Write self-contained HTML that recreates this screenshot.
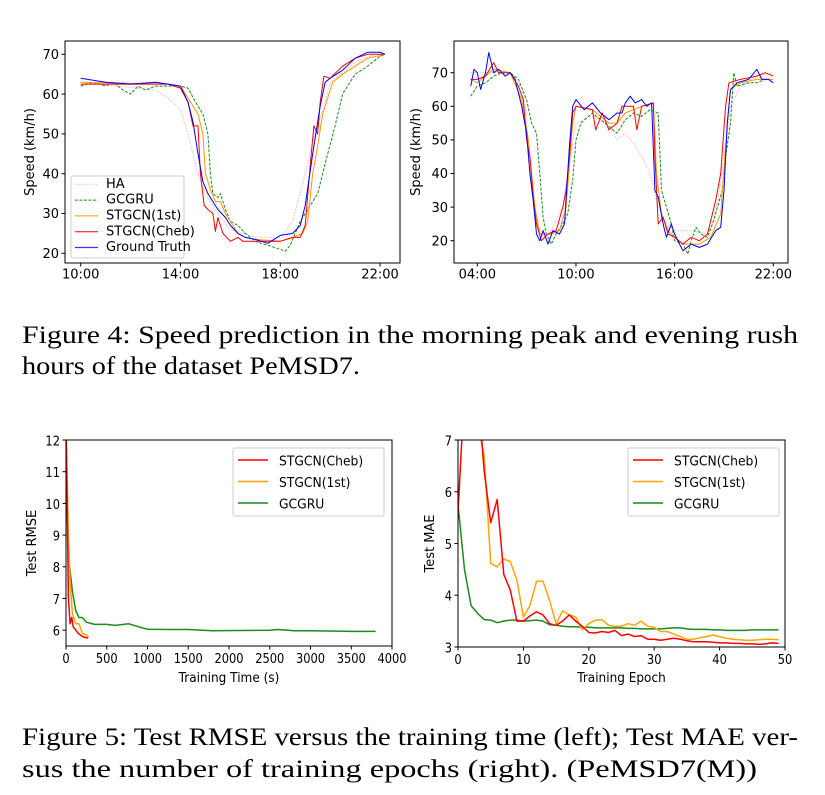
<!DOCTYPE html>
<html><head><meta charset="utf-8">
<style>
html,body{margin:0;padding:0;background:#fff;}
svg{display:block;}
.tk{font-family:"DejaVu Sans","Liberation Sans",sans-serif;font-size:13px;fill:#000;}
.cap{font-family:"Liberation Serif",serif;font-size:25px;fill:#000;}
</style></head>
<body>
<svg id="fig" width="825" height="795" viewBox="0 0 825 795" xmlns="http://www.w3.org/2000/svg">
<text class="cap" x="22" y="343" textLength="776" lengthAdjust="spacingAndGlyphs">Figure 4:  Speed prediction in the morning peak and evening rush</text>
<text class="cap" x="22" y="374" textLength="338" lengthAdjust="spacingAndGlyphs">hours of the dataset PeMSD7.</text>
<text class="cap" x="22" y="745" textLength="776" lengthAdjust="spacingAndGlyphs">Figure 5: Test RMSE versus the training time (left); Test MAE ver-</text>
<text class="cap" x="22" y="777" textLength="735" lengthAdjust="spacingAndGlyphs">sus the number of training epochs (right). (PeMSD7(M))</text>
</svg>
<script>
// ---- Chart A (left top) data ----
const aTruthT=[10,11,12,13,13.5,14,14.3,14.5,14.7,14.9,15.1,15.3,15.5,15.8,16,16.3,16.6,17,17.5,18,18.5,18.8,19,19.3,19.6,19.8,20,20.5,21,21.5,22,22.2];
const aTruthV=[64,63,62.5,63,62.5,62,58,53,45,38,35,33,31,29,27,25,24,23.5,22.5,24.5,25,27,32,45,57,63,64,66,69,70.5,70.5,70];
const aChebT=[10,13.5,14,14.3,14.5,14.7,14.8,14.95,15.1,15.3,15.4,15.5,15.7,16,16.3,16.5,17,18,18.5,18.8,19,19.2,19.35,19.5,19.6,19.75,20,20.5,21,21.5,22.2];
const aChebV=[62.5,62.5,61.5,58,52,52,40,32,31,30,25.5,29,25,23,24,23,23,23,24,24,27,42,52,50,58,64.5,64,67,69,70,70];
const a1stT=[10,13.5,14,14.5,14.7,14.9,15,15.2,15.4,15.6,15.8,16,16.3,16.6,17,18,18.5,18.9,19.1,19.3,19.5,19.7,19.9,20.1,20.5,21,21.5,22.2];
const a1stV=[63,62.5,62,57,55,50,40,36,33,33,30,28,25,24,23.5,23,24,25,28,40,47,55,59,63,65,67,69,70];
const aGruT=[10,10.5,11,11.3,11.7,12,12.3,12.6,13,13.5,14,14.3,14.6,14.9,15.1,15.2,15.3,15.5,15.6,15.8,16,16.3,16.6,17,17.5,18,18.2,18.4,18.6,18.8,19,19.2,19.5,19.7,19.9,20.2,20.5,21,21.5,22,22.2];
const aGruV=[62,63,62,63,61,60,62,61,62,62,62,61.5,58,55,50,40,35,34,35,31,28,27,25,23,22,21,20.5,22,25,28,30,32,35,40,45,52,60,65,67,69.5,70];
const aHaT=[10,13,13.5,14,14.3,14.7,15,15.5,16,17,18,18.5,19,19.3,19.7,20,21,22.2];
const aHaV=[63,61,59,56,50,40,35,30,26,24,24,28,40,48,56,63,68,71];
const aYTicks=[20,30,40,50,60,70];
const aXTicks=[10,14,18,22];
const aXLabels=["10:00","14:00","18:00","22:00"];

// ---- Chart B (right top) data ----
const bTruthT=[3.6,3.8,4,4.2,4.5,4.7,5,5.3,5.7,6,6.3,6.7,7,7.2,7.4,7.6,7.8,8,8.3,8.6,9,9.3,9.6,9.8,10,10.5,11,11.5,12,12.5,12.8,13,13.3,13.6,14,14.3,14.6,14.8,15,15.3,15.5,15.8,16,16.5,17,17.5,18,18.5,18.8,19,19.2,19.4,19.8,20.5,21,21.3,21.7,22];
const bTruthV=[66,71,70,65,70,76,70,71,69,70,68,60,52,40,32,22,20,23,19,23,22,25,48,60,62,59,61,58,56,58,58,61,63,61,62,60,61,35,33,25,21,25,22,17,19,18,19,23,24,35,55,65,67,68,71,68,68,67];
const bChebT=[3.6,4,4.5,5,5.3,6,6.5,6.8,7,7.2,7.4,7.6,7.9,8.3,8.8,9.2,9.4,9.6,9.8,10,11,11.2,11.6,12,12.5,12.8,13.5,13.7,14,14.7,14.8,15,15.3,15.6,16,16.5,17,17.5,18,18.5,18.8,19.1,19.3,20,21,21.5,22];
const bChebV=[68,68,69,73,70,70,66,62,50,45,33,25,20,22,23,30,35,45,58,60,59,53,58,53,55,60,60,53,60,61,45,25,27,22,21,19,21,20,22,32,40,60,67,68,69,70,69];
const b1stT=[3.6,4,5,6,6.7,7.1,7.5,7.8,8.5,9,9.4,9.8,10,11,12,12.5,13,14,14.7,14.9,15.2,15.6,16,16.5,17.5,18.2,18.8,19.2,19.4,20,21,22];
const b1stV=[68,67,71,70,62,50,30,22,22,23,30,55,60,59,55,55,58,60,61,40,28,23,21,19,19,21,28,55,65,67,68,68];
const bGruT=[3.6,4,4.5,5,5.5,6,6.5,7,7.3,7.6,7.8,8,8.2,8.5,8.8,9.2,9.5,9.8,10,10.3,11,11.5,12,12.5,13,13.5,14,14.5,15,15.2,15.5,15.8,16,16.5,16.8,17,17.3,17.6,18,18.3,18.6,18.9,19.1,19.4,19.6,19.8,20.5,21,21.5,22];
const bGruV=[63,66,67,69,70,70,68,62,55,52,40,27,22,19,22,25,28,38,50,55,58,56,54,52,56,58,57,59,58,35,30,25,20,19,16,20,24,22,21,25,30,35,45,55,70,66,67,67,68,68];
const bHaT=[3.6,5,6,6.8,7.2,7.6,8,8.5,9.2,9.5,10,11,12,12.5,13,13.5,14,14.5,15,15.5,16,17,18,18.5,19,19.4,20,21,22];
const bHaV=[70,70,70,65,45,25,22,23,30,40,55,57,55,50,52,49,45,40,30,25,23,23,22,27,45,60,66,69,70];
const bYTicks=[20,30,40,50,60,70];
const bXTicks=[4,10,16,22];
const bXLabels=["04:00","10:00","16:00","22:00"];

// ---- Chart C (RMSE vs time) data ----
const cChebT=[0,20,30,50,70,90,120,150,200,270];
const cChebV=[12.5,9,7,6.2,6.4,6.1,6.0,5.9,5.8,5.75];
const c1stT=[0,30,50,80,120,160,200,250,280];
const c1stV=[12.5,9,7.5,6.5,6.2,6.2,5.9,5.85,5.78];
const cGruT=[40,80,120,160,200,250,350,500,600,770,900,1000,1250,1500,1800,2100,2500,2600,2800,3000,3500,3800];
const cGruV=[8.1,7.2,6.6,6.4,6.4,6.25,6.18,6.18,6.15,6.2,6.1,6.03,6.02,6.02,5.98,5.99,6.0,6.02,5.98,5.98,5.96,5.96];
const cYTicks=[6,7,8,9,10,11,12];
const cXTicks=[0,500,1000,1500,2000,2500,3000,3500,4000];

// ---- Chart D (MAE vs epoch) data ----
const dEpochs=[0,1,2,3,4,5,6,7,8,9,10,11,12,13,14,15,16,17,18,19,20,21,22,23,24,25,26,27,28,29,30,31,32,33,34,35,36,37,38,39,40,41,42,43,44,45,46,47,48,49];
const dCheb=[5.6,8,8.5,8,6.4,5.4,5.85,4.4,4.1,3.5,3.5,3.6,3.68,3.62,3.45,3.42,3.5,3.62,3.5,3.4,3.28,3.27,3.3,3.28,3.32,3.22,3.25,3.2,3.22,3.15,3.15,3.13,3.15,3.17,3.15,3.12,3.1,3.1,3.1,3.09,3.08,3.08,3.07,3.07,3.06,3.06,3.05,3.06,3.08,3.07];
const d1st=[8,9,8.5,7.3,6.7,4.62,4.55,4.7,4.65,4.3,3.58,3.8,4.27,4.27,3.9,3.45,3.7,3.62,3.58,3.33,3.45,3.52,3.53,3.42,3.4,3.4,3.45,3.42,3.5,3.4,3.38,3.3,3.3,3.25,3.2,3.15,3.15,3.18,3.2,3.23,3.2,3.17,3.15,3.14,3.13,3.13,3.14,3.15,3.15,3.14];
const dGru=[5.75,4.5,3.8,3.65,3.53,3.52,3.47,3.5,3.52,3.52,3.5,3.51,3.52,3.5,3.43,3.42,3.4,3.39,3.39,3.38,3.38,3.37,3.37,3.37,3.37,3.37,3.36,3.36,3.35,3.35,3.35,3.35,3.36,3.37,3.37,3.35,3.34,3.34,3.34,3.33,3.33,3.32,3.32,3.32,3.32,3.33,3.33,3.33,3.33,3.33];
const dYTicks=[3,4,5,6,7];
const dXTicks=[0,10,20,30,40,50];

const NS="http://www.w3.org/2000/svg";
const svg=document.getElementById('fig');
function mk(tag,attrs,parent){const e=document.createElementNS(NS,tag);for(const k in attrs)e.setAttribute(k,attrs[k]);(parent||svg).appendChild(e);return e;}
function squeeze(t,x,s){t.setAttribute('transform','translate('+x+' 0) scale('+s+' 1) translate('+(-x)+' 0)');}
let clipN=0;
function chart(o){
  const g=mk('g',{});
  
  
  const sx=v=>o.x0+(v-o.xmin)/(o.xmax-o.xmin)*(o.x1-o.x0);
  const sy=v=>o.y1-(v-o.ymin)/(o.ymax-o.ymin)*(o.y1-o.y0);
  const id='clip'+(clipN++);
  const cp=mk('clipPath',{id:id},g);
  mk('rect',{x:o.x0,y:o.y0,width:o.x1-o.x0,height:o.y1-o.y0},cp);
  const lg=mk('g',{'clip-path':'url(#'+id+')'},g);
  o.series.forEach(s=>{
    const d=s.t.map((t,i)=>(i?'L':'M')+sx(t).toFixed(1)+' '+sy(s.v[i]).toFixed(1)).join('');
    const p=mk('path',{d:d,fill:'none',stroke:s.color,'stroke-width':s.w||1,'stroke-dasharray':s.dash||'none','stroke-linejoin':'round'},lg);
    
    
  });
  const fr=mk('rect',{x:o.x0,y:o.y0,width:o.x1-o.x0,height:o.y1-o.y0,fill:'none',stroke:'#000','stroke-width':1},g);
  
  
  o.yTicks.forEach(v=>{
    const y=sy(v);
    mk('line',{x1:o.x0-3.5,x2:o.x0,y1:y,y2:y,stroke:'#000'},g);
    const t=mk('text',{x:o.x0-6,y:y+o.fs*0.36,'text-anchor':'end','font-size':o.fs,class:'tk'},g);
    if(o.narrow)squeeze(t,o.x0-6,o.narrow);
    t.textContent=String(v);
    
    
  });
  o.xTicks.forEach((v,i)=>{
    const x=sx(v);
    mk('line',{x1:x,x2:x,y1:o.y1,y2:o.y1+3.5,stroke:'#000'},g);
    const t=mk('text',{x:x,y:o.y1+5+o.fs*0.8,'text-anchor':'middle','font-size':o.fs,class:'tk'},g);
    if(o.narrow)squeeze(t,x,o.narrow);
    t.textContent=o.xLabels?o.xLabels[i]:String(v);
    
    
  });
  const cy=(o.y0+o.y1)/2;
  const yfs=o.ylfs||o.fs;
  const yl=mk('text',{x:o.ylx,y:cy,'text-anchor':'middle','font-size':yfs,class:'tk',transform:'rotate(-90 '+o.ylx+' '+cy+')'},g);
  yl.textContent=o.ylabel;
  
  
  if(o.xlabel){
    const cx=(o.x0+o.x1)/2;
    const xl=mk('text',{x:cx,y:o.xly,'text-anchor':'middle','font-size':o.fs,class:'tk'},g);
    if(o.narrow)squeeze(xl,cx,0.93);
    xl.textContent=o.xlabel;
    
    
  }
  if(o.legend){
    const L=o.legend;
    const lb=mk('rect',{x:L.x,y:L.y,width:L.w,height:L.h,fill:'#fff','fill-opacity':0.85,stroke:'#ccc',rx:2},g);
    
    
    L.items.forEach((it,i)=>{
      const y=L.ey+i*L.dy;
      const ln=mk('line',{x1:L.lx,x2:L.lx+L.ll,y1:y,y2:y,stroke:it.color,'stroke-width':it.w||1,'stroke-dasharray':it.dash||'none'},g);
      
      
      const t=mk('text',{x:L.tx,y:y+L.fs*0.36,'font-size':L.fs,class:'tk'},g);
      if(L.narrow)squeeze(t,L.tx,L.narrow);
      t.textContent=it.label;
      
      
    });
  }
}
const HA={id:'ha',color:'#f4b6c2',dash:'1.5 1.5'}, GR={id:'gcgru',color:'#1a8c1a',dash:'3 1.5'};
chart({name:'speed-chart-left',x0:65,x1:400,y0:41,y1:263,xmin:9.37,xmax:22.8,ymin:17.56,ymax:73.34,
 yTicks:aYTicks,xTicks:aXTicks,xLabels:aXLabels,fs:13,ylabel:'Speed (km/h)',ylx:34,
 series:[Object.assign({t:aHaT,v:aHaV},HA),Object.assign({t:aGruT,v:aGruV},GR),
  {id:'stgcn-1st',t:a1stT,v:a1stV,color:'#ff9900'},{id:'stgcn-cheb',t:aChebT,v:aChebV,color:'#ff0000'},{id:'ground-truth',t:aTruthT,v:aTruthV,color:'#0000ff'}],
 legend:{x:71,y:176,w:113,h:82,ey:184.3,dy:15.8,lx:75,ll:23,tx:106,fs:10,items:[
  {label:'HA',color:'#f4b6c2',dash:'1.5 1.5'},{label:'GCGRU',color:'#1a8c1a',dash:'3 1.5'},{label:'STGCN(1st)',color:'#ff9900'},{label:'STGCN(Cheb)',color:'#ff0000'},{label:'Ground Truth',color:'#3333ff',w:1.3}]}
});
chart({name:'speed-chart-right',x0:454,x1:788,y0:41,y1:263,xmin:4-23.3/296*18,xmax:22+14.7/296*18,ymin:20-22.3/3.36,ymax:70+31.7/3.36,
 yTicks:bYTicks,xTicks:bXTicks,xLabels:bXLabels,fs:13,ylabel:'Speed (km/h)',ylx:420,
 series:[Object.assign({t:bHaT,v:bHaV},HA),Object.assign({t:bGruT,v:bGruV},GR),
  {id:'stgcn-1st',t:b1stT,v:b1stV,color:'#ff9900'},{id:'stgcn-cheb',t:bChebT,v:bChebV,color:'#ff0000'},{id:'ground-truth',t:bTruthT,v:bTruthV,color:'#0000ff'}]
});
chart({name:'rmse-vs-time-chart',x0:66,x1:392,y0:440,y1:646,xmin:0,xmax:4000,ymin:5.5,ymax:12,
 yTicks:cYTicks,xTicks:cXTicks,fs:15,narrow:0.88,ylabel:'Test RMSE',ylfs:15,ylx:36,xlabel:'Training Time (s)',xly:682,
 series:[{id:'gcgru',t:cGruT,v:cGruV,color:'#1a8c1a',w:1.5},{id:'stgcn-1st',t:c1stT,v:c1stV,color:'#ffa500',w:1.5},{id:'stgcn-cheb',t:cChebT,v:cChebV,color:'#ff0000',w:1.5}],
 legend:{x:233,y:448,w:151,h:68,ey:460,dy:21.5,lx:238,ll:30,tx:279,fs:15,narrow:0.95,items:[
  {label:'STGCN(Cheb)',color:'#ff0000',w:1.5},{label:'STGCN(1st)',color:'#ffa500',w:1.5},{label:'GCGRU',color:'#1a8c1a',w:1.5}]}
});
chart({name:'mae-vs-epoch-chart',x0:458,x1:785,y0:440,y1:647,xmin:0,xmax:50,ymin:3,ymax:7,
 yTicks:dYTicks,xTicks:dXTicks,fs:15,narrow:0.88,ylabel:'Test MAE',ylfs:15,ylx:434,xlabel:'Training Epoch',xly:682,
 series:[{id:'gcgru',t:dEpochs,v:dGru,color:'#1a8c1a',w:1.5},{id:'stgcn-1st',t:dEpochs,v:d1st,color:'#ffa500',w:1.5},{id:'stgcn-cheb',t:dEpochs,v:dCheb,color:'#ff0000',w:1.5}],
 legend:{x:628,y:448,w:151,h:68,ey:460,dy:21.5,lx:633,ll:30,tx:674,fs:15,narrow:0.95,items:[
  {label:'STGCN(Cheb)',color:'#ff0000',w:1.5},{label:'STGCN(1st)',color:'#ffa500',w:1.5},{label:'GCGRU',color:'#1a8c1a',w:1.5}]}
});
</script>
</body></html>
